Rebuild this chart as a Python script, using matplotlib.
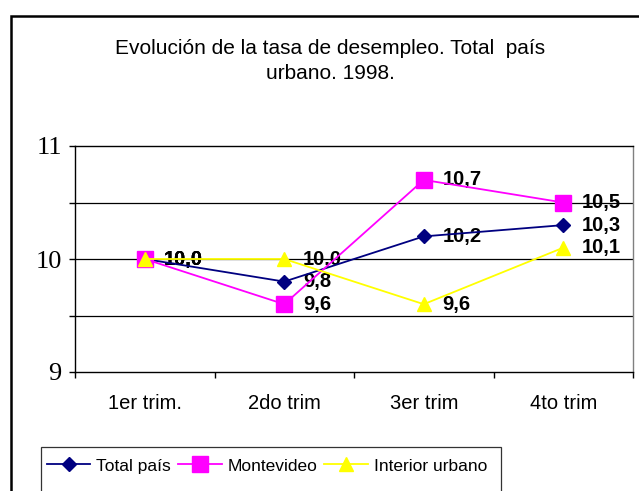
import matplotlib
matplotlib.use("Agg")
import matplotlib.pyplot as plt
from matplotlib.patches import Rectangle
from matplotlib.lines import Line2D

categories = ["1er trim.", "2do trim", "3er trim", "4to trim"]
total_pais = [10.0, 9.8, 10.2, 10.3]
montevideo = [10.0, 9.6, 10.7, 10.5]
interior = [10.0, 10.0, 9.6, 10.1]
series_names = ["Total país", "Montevideo", "Interior urbano"]
title_lines = ["Evolución de la tasa de desempleo. Total  país", "urbano. 1998."]

W, H = 639, 491
fig = plt.figure(figsize=(W / 100, H / 100), dpi=100)
fig.patch.set_facecolor("white")

def fx(px):
    return px / W

def fy(py):
    return 1 - py / H

# outer chart frame (extends beyond the image at right/bottom)
fig.patches.append(Rectangle((fx(11), fy(520)), fx(700), fy(15.5) - fy(520),
                             transform=fig.transFigure, fill=False,
                             edgecolor="black", linewidth=1.8, zorder=0))

ax = fig.add_axes([fx(75), fy(372), fx(633) - fx(75), fy(146) - fy(372)])
x = list(range(len(categories)))

styles = [
    dict(color="#000080", marker="D", markersize=7.5),
    dict(color="#FF00FF", marker="s", markersize=11),
    dict(color="#FFFF00", marker="^", markersize=10),
]
data = [total_pais, montevideo, interior]

for vals, st in zip(data, styles):
    ax.plot(x, vals, color=st["color"], marker=st["marker"], markersize=st["markersize"],
            markerfacecolor=st["color"], markeredgecolor=st["color"], linewidth=1.3,
            zorder=3, clip_on=False)
    for xi, v in zip(x, vals):
        ax.annotate(f"{v:.1f}".replace(".", ","), (xi, v), xytext=(13.5, 0),
                    textcoords="offset points", ha="left", va="center",
                    fontsize=14.5, fontweight="bold", family="Liberation Sans",
                    color="black", zorder=2, annotation_clip=False)

ax.set_xlim(-0.5, 3.5)
ax.set_ylim(9, 11)

ax.set_xticks(x)
ax.set_xticklabels(categories, family="Liberation Sans", fontsize=14.5)
ax.set_xticks([-0.5, 0.5, 1.5, 2.5, 3.5], minor=True)
ax.tick_params(axis="x", which="major", length=0, pad=16)
ax.tick_params(axis="x", which="minor", length=4, width=1, direction="out")

ax.set_yticks([9, 10, 11])
ax.set_yticklabels(["9", "10", "11"], family="Liberation Serif", fontsize=19)
ax.set_yticks([9.5, 10.5], minor=True)
ax.tick_params(axis="y", which="both", length=4.5, width=1, direction="out", pad=5)

for yv in [9.5, 10, 10.5]:
    ax.axhline(yv, color="black", linewidth=0.9, zorder=1)

for s in ["left", "bottom", "top"]:
    ax.spines[s].set_color("black")
    ax.spines[s].set_linewidth(1.0)
ax.spines["right"].set_color("#808080")
ax.spines["right"].set_linewidth(1.0)

for line, ypx in zip(title_lines, [54, 79]):
    fig.text(fx(330), fy(ypx), line, ha="center", va="baseline", fontsize=15,
             family="Liberation Sans")

# legend
fig.patches.append(Rectangle((fx(40.5), fy(520)), fx(501) - fx(40.5), fy(447) - fy(520),
                             transform=fig.transFigure, fill=False,
                             edgecolor="#333333", linewidth=0.9, zorder=0))
handles = [Line2D([0], [0], color=st["color"], marker=st["marker"],
                  markersize=st["markersize"], markerfacecolor=st["color"],
                  markeredgecolor=st["color"], linewidth=1.3) for st in styles]
fig.legend(handles, series_names, loc="center left",
           bbox_to_anchor=(fx(40), fy(466)), ncol=3, frameon=False,
           prop=dict(family="Liberation Sans", size=12.5),
           handlelength=2.5, handletextpad=0.35, columnspacing=0.4,
           borderpad=0, borderaxespad=0.4)

fig.savefig("out.png", dpi=100, facecolor="white")
